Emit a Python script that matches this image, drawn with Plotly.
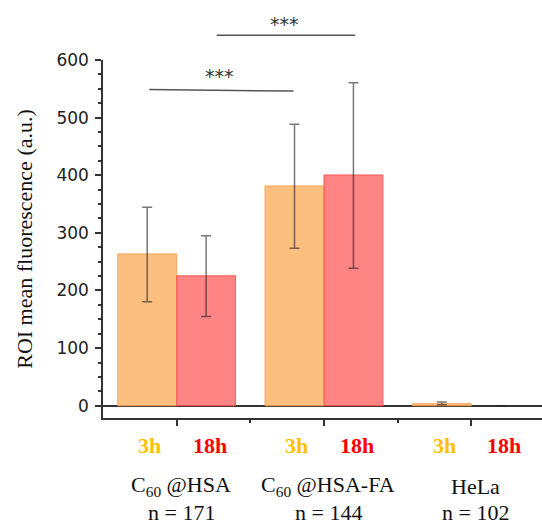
import plotly.graph_objects as go

# ---- data ----
groups = ["C<sub>60</sub> @HSA", "C<sub>60</sub> @HSA-FA", "HeLa"]
n_counts = ["n = 171", "n = 144", "n = 102"]
group_pos = [1, 2, 3]
series_names = ["3h", "18h"]
vals_3h = [263.5, 381.5, 3.5]
err_up_3h = [81, 107, 3]
err_dn_3h = [83, 108, 2]
vals_18h = [225.5, 400.5, 0]
err_up_18h = [69.5, 160, 0]
err_dn_18h = [70.5, 162, 0]
y_ticks = [0, 100, 200, 300, 400, 500, 600]
# significance brackets
sig_x0 = [0.815, 1.272]
sig_x1 = [1.793, 2.212]
sig_y0 = [549, 643]
sig_y1 = [546, 643]
sig_label = ["***", "***"]

Y_MIN, Y_MAX = -21.3, 600
X_MIN, X_MAX = 0.5, 3.48

def ypaper(v):
    return (v - Y_MIN) / (Y_MAX - Y_MIN)

fill_3h = "rgba(253,180,105,0.85)"
line_3h = "rgba(250,160,80,0.9)"
fill_18h = "rgba(255,110,110,0.85)"
line_18h = "rgba(255,80,80,0.9)"
err_color = "rgba(30,30,30,0.6)"

fig = go.Figure()
fig.add_trace(go.Bar(
    x=[g - 0.2 for g in group_pos], y=vals_3h, width=0.4, name=series_names[0],
    marker=dict(color=fill_3h, line=dict(color=line_3h, width=1)),
    error_y=dict(type="data", symmetric=False, array=err_up_3h, arrayminus=err_dn_3h,
                 color=err_color, thickness=1.5, width=5),
))
fig.add_trace(go.Bar(
    x=[g + 0.2 for g in group_pos], y=vals_18h, width=0.4, name=series_names[1],
    marker=dict(color=fill_18h, line=dict(color=line_18h, width=[1 if v else 0 for v in vals_18h])),
    error_y=dict(type="data", symmetric=False, array=err_up_18h, arrayminus=err_dn_18h,
                 color=err_color, thickness=1.5, width=5),
))

serif = "Liberation Serif, Times New Roman, serif"
annotations = []
for g, name, n in zip(group_pos, groups, n_counts):
    annotations.append(dict(x=g - 0.185, y=-0.077, xref="x", yref="paper", text="<b>3h</b>",
                            showarrow=False, font=dict(family=serif, size=22, color="#FFC000"),
                            xanchor="center", yanchor="middle"))
    annotations.append(dict(x=g + 0.225, y=-0.077, xref="x", yref="paper", text="<b>18h</b>",
                            showarrow=False, font=dict(family=serif, size=22, color="#FF0000"),
                            xanchor="center", yanchor="middle"))
    annotations.append(dict(x=g + 0.03, y=-0.19, xref="x", yref="paper", text=name,
                            showarrow=False, font=dict(family=serif, size=22, color="#111"),
                            xanchor="center", yanchor="middle"))
    annotations.append(dict(x=g + 0.03, y=-0.263, xref="x", yref="paper", text=n,
                            showarrow=False, font=dict(family=serif, size=22, color="#111"),
                            xanchor="center", yanchor="middle"))

shapes = []
star_shift = [0, -2]
for x0, x1, y0, y1, lab, ys in zip(sig_x0, sig_x1, sig_y0, sig_y1, sig_label, star_shift):
    shapes.append(dict(type="line", xref="x", yref="paper", x0=x0, x1=x1,
                       y0=ypaper(y0), y1=ypaper(y1), line=dict(color="#555", width=1.5)))
    annotations.append(dict(x=(x0 + x1) / 2 - 0.01, y=ypaper(max(y0, y1)), yshift=ys,
                            xref="x", yref="paper", text=lab, showarrow=False, yanchor="bottom",
                            font=dict(family="DejaVu Sans", size=19, color="#333")))

fig.update_layout(
    width=542, height=523,
    margin=dict(l=103, r=0, t=60, b=105),
    paper_bgcolor="white", plot_bgcolor="white",
    showlegend=False, barmode="overlay",
    annotations=annotations, shapes=shapes,
    xaxis=dict(range=[X_MIN, X_MAX], tickvals=group_pos, showticklabels=False,
               ticks="outside", ticklen=6, tickwidth=1.5, tickcolor="#333",
               showline=True, linecolor="#333", linewidth=1.5, showgrid=False, zeroline=False,
               minor=dict(tickvals=[1.5, 2.5], ticks="outside", ticklen=3, tickwidth=1.5, tickcolor="#333")),
    yaxis=dict(range=[Y_MIN, Y_MAX], tickvals=y_ticks, ticks="outside", ticklen=6, tickwidth=1.5,
               tickcolor="#333", showline=True, linecolor="#333", linewidth=1.5, showgrid=False,
               zeroline=True, zerolinecolor="#333", zerolinewidth=1.5,
               tickfont=dict(family="DejaVu Sans", size=17, color="#222"), ticklabelstandoff=3,
               minor=dict(dtick=25, tick0=0, ticks="outside", ticklen=3, tickwidth=1.5, tickcolor="#333"),
               automargin=False,
               title=dict(text="ROI mean fluorescence (a.u.)", standoff=18,
                          font=dict(family=serif, size=22, color="#111"))),
)

fig.write_html("out.html", config={"displayModeBar": False},
               post_script="document.body.style.margin='0px';document.body.style.overflow='hidden';")
